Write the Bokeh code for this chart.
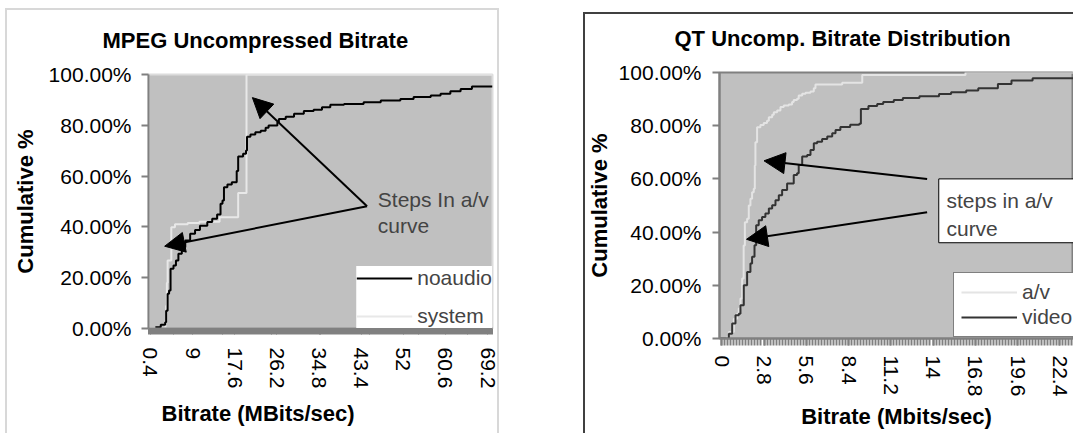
import math
from bokeh.plotting import figure
from bokeh.models import (Range1d, FixedTicker, NumeralTickFormatter, Legend, LegendItem,
                          Arrow, NormalHead, Label, BoxAnnotation, Title, Spacer)
from bokeh.layouts import row, column
from bokeh.embed import file_html
from bokeh.resources import INLINE

FONT = "Liberation Sans"

# ---------------- data: MPEG chart (MBits/sec, cumulative %) ----------------
noaudio_x = [1.4, 2.5, 3.4, 3.6, 3.9, 4.2, 4.5, 5.1, 5.6, 6.1, 6.8, 7.5, 8.5, 9.5, 10.5,
             12.0, 13.0, 14.0, 14.7, 15.1, 15.4, 16.1, 17.0, 18.0, 18.3, 19.3, 19.9, 20.1,
             20.8, 21.8, 22.9, 23.9, 24.5, 26.3, 26.6, 28.0, 29.7, 31.7, 33.7, 35.4, 37.1,
             39.9, 43.9, 47.4, 51.4, 54.1, 57.6, 59.6, 61.6, 63.7, 66.0, 70.2]
noaudio_y = [0.5, 1.5, 2.5, 7, 13.7, 15, 23.5, 24.8, 26.8, 29.4, 32, 34.6, 37.3, 38.8, 40.5,
             41.9, 43.2, 44.9, 49.1, 50.4, 55.6, 56.7, 57.6, 62, 67.7, 68.8, 70.1, 75.5,
             76.4, 77.3, 77.9, 79, 79.9, 81.2, 82.5, 83.4, 84.5, 85.6, 86.1, 87.1, 88.1,
             88.4, 89.1, 89.8, 90.4, 91.1, 91.7, 92.4, 93.4, 94.3, 95.3, 95.3]
system_x = [0.0, 3.45, 3.6, 3.75, 3.9, 4.65, 5.4, 8.0, 10.4, 14.5, 18.3, 20.0, 70.2]
system_y = [0, 3, 9, 18, 26.8, 39.9, 41.0, 41.5, 42.0, 43.8, 53.3, 100, 100]
mpeg_tick_labels = ["0.4", "9", "17.6", "26.2", "34.8", "43.4", "52", "60.6", "69.2"]

# ---------------- data: QT chart (Mbits/sec, cumulative %) ----------------
av_x = [-0.15, 0.3, 0.47, 0.8, 1.02, 1.13, 1.24, 1.35, 1.45, 1.53, 1.68, 1.79, 1.9, 2.01,
        2.12, 2.19, 2.23, 2.34, 2.56, 2.78, 3.0, 3.12, 3.34, 3.45, 3.67, 3.89, 4.11, 4.44,
        4.66, 4.77, 4.99, 5.1, 5.33, 5.55, 5.88, 6.1, 6.21, 7.98, 9.31, 16.15, 23.31]
av_y = [0, 0.3, 2.4, 7.4, 9.3, 11.3, 15, 22.6, 35, 43.7, 45, 50, 52.5, 55,
        56.3, 65, 73.8, 79.4, 80.3, 81, 81.9, 83.2, 84.1, 85.1, 85.7, 87, 87.6, 88,
        88.9, 89.7, 90.1, 91.4, 92, 92.4, 92.9, 94.1, 95.5, 96.1, 99.1, 100, 100]
video_x = [-0.15, 0.47, 0.69, 0.91, 1.13, 1.24, 1.46, 1.68, 1.9, 2.01, 2.17, 2.28, 2.45,
           2.67, 2.89, 3.12, 3.34, 3.56, 3.78, 4.0, 4.33, 4.77, 4.99, 5.1, 5.33, 5.66,
           5.88, 6.1, 6.32, 6.65, 6.99, 7.32, 7.54, 7.86, 8.51, 9.11, 9.22, 9.72, 10.3,
           10.7, 11.4, 12.0, 13.1, 14.4, 15.2, 16.2, 17.0, 18.3, 19.2, 20.6, 23.31]
video_y = [0, 1.8, 5.6, 8.7, 9.3, 12.5, 20, 25, 28.2, 30.7, 35.1, 42.6, 44.5,
           45.7, 47, 48.9, 50.1, 52, 53.9, 55.8, 58.3, 61.5, 62.1, 65.2, 68.4, 69,
           70.9, 73.4, 74, 75, 75.9, 77.2, 78.4, 79.5, 80.4, 80.7, 86.3, 87.4, 88.2,
           88.9, 89.7, 90.4, 91.1, 91.9, 92.6, 93.2, 94.1, 95.7, 97, 97.8, 97.8]
qt_tick_labels = ["0", "2.8", "5.6", "8.4", "11.2", "14", "16.8", "19.6", "22.4"]

y_ticks = [0.0, 0.2, 0.4, 0.6, 0.8, 1.0]

# annotation anchors (data coords)
mpeg_arrow_start = (44.6, 0.481)
mpeg_arrow_tips = [(21.2, 0.909), (3.3, 0.324)]
qt_arrow_starts = [(13.61, 0.600), (13.61, 0.475)]
qt_arrow_tips = [(2.80, 0.668), (1.64, 0.373)]


def pct(v):
    return [a / 100.0 for a in v]


def style_common(p, tick_w):
    p.background_fill_color = "#c0c0c0"
    p.border_fill_color = "white"
    p.border_fill_alpha = 0
    p.xgrid.visible = False
    p.ygrid.visible = False
    for ax in (p.xaxis[0], p.yaxis[0]):
        ax.axis_line_color = "#808080"
        ax.axis_line_width = 2
        ax.major_tick_line_color = "#808080"
        ax.major_label_text_font = FONT
        ax.major_label_text_font_size = "21px"
        ax.major_label_text_color = "black"
        ax.axis_label_text_font = FONT
        ax.axis_label_text_font_size = "22px"
        ax.axis_label_text_font_style = "bold"
        ax.axis_label_text_color = "black"
    ya = p.yaxis[0]
    ya.ticker = FixedTicker(ticks=y_ticks)
    ya.formatter = NumeralTickFormatter(format="0.00%")
    ya.minor_tick_line_color = None
    ya.major_tick_in = 0
    ya.major_tick_out = 7
    ya.major_tick_line_width = 2
    xa = p.xaxis[0]
    xa.major_tick_in = 0
    xa.minor_tick_in = 0
    xa.major_tick_out = 6
    xa.minor_tick_out = 6
    xa.major_tick_line_width = tick_w
    xa.minor_tick_line_width = tick_w
    xa.minor_tick_line_color = "#808080"
    xa.major_label_orientation = -math.pi / 2


def chart_title(p, text, offset, standoff):
    p.title.text = text
    p.title.align = "left"
    p.title.offset = offset
    p.title.text_font = FONT
    p.title.text_font_size = "22px"
    p.title.text_font_style = "bold"
    p.title.text_color = "black"
    p.title.standoff = standoff


def frame_box(color, top, right_px=None):
    # chart-area border (left, top[, right]) painted behind the transparent canvas
    grads = ["linear-gradient(%s,%s)" % (color, color)] * (3 if right_px else 2)
    sizes = ["2px 100%", ("%dpx 2px" % (right_px + 2)) if right_px else "100% 2px"]
    pos = ["0px %dpx" % top, "0px %dpx" % top]
    if right_px:
        sizes.append("2px 100%")
        pos.append("%dpx %dpx" % (right_px, top))
    return {"background-image": ", ".join(grads), "background-size": ", ".join(sizes),
            "background-position": ", ".join(pos), "background-repeat": "no-repeat"}


# ---------------- left figure ----------------
p1 = figure(width=498, height=433, output_backend="svg", toolbar_location=None,
            x_range=Range1d(0.0, 70.2), y_range=Range1d(0, 1),
            min_border_left=143, min_border_right=11, min_border_top=74, min_border_bottom=105)
p1.outline_line_color = "#dcdcdc"
p1.outline_line_width = 2
mt = [float(s) for s in mpeg_tick_labels]
style_common(p1, 1)
p1.xaxis[0].ticker = FixedTicker(ticks=mt, minor_ticks=[round(0.2 * i, 1) for i in range(352)])
p1.xaxis[0].major_label_overrides = {v: s for v, s in zip(mt, mpeg_tick_labels)}
p1.xaxis[0].major_label_standoff = 13
p1.yaxis[0].major_label_standoff = 10
p1.yaxis[0].axis_label = "Cumulative %"
p1.yaxis[0].axis_label_standoff = 8

r_sys = p1.step(system_x, pct(system_y), mode="after", line_color="#e8e8e8", line_width=2)
r_noa = p1.step(noaudio_x, pct(noaudio_y), mode="after", line_color="black", line_width=2)

chart_title(p1, "MPEG Uncompressed Bitrate", -46, 43)
p1.add_layout(Title(text="Bitrate (MBits/sec)", align="left", offset=13, text_font=FONT,
                    text_font_size="22px", text_font_style="bold", text_color="black",
                    standoff=14), "below")

leg1 = Legend(items=[LegendItem(label="noaudio", renderers=[r_noa]),
                     LegendItem(label="system", renderers=[r_sys])],
              location="bottom_right", margin=0, padding=6, spacing=14,
              glyph_width=56, glyph_height=20, label_height=20, label_standoff=5,
              label_text_font=FONT, label_text_font_size="21px",
              border_line_color=None, background_fill_color="white", background_fill_alpha=1)
p1.add_layout(leg1)

for tip in mpeg_arrow_tips:
    p1.add_layout(Arrow(end=NormalHead(size=20, fill_color="black", line_color="black"),
                        x_start=mpeg_arrow_start[0], y_start=mpeg_arrow_start[1],
                        x_end=tip[0], y_end=tip[1], line_color="black", line_width=2))
p1.add_layout(Label(x=46.8, y=0.507, text="Steps In a/v", text_font=FONT,
                    text_font_size="21px", text_baseline="alphabetic"))
p1.add_layout(Label(x=46.8, y=0.406, text="curve", text_font=FONT,
                    text_font_size="21px", text_baseline="alphabetic"))
p1.styles = frame_box("#d8d8d8", 8, right_px=492)

# ---------------- right figure ----------------
p2 = figure(width=490, height=433, output_backend="svg", toolbar_location=None,
            x_range=Range1d(-0.15, 23.31), y_range=Range1d(0, 1),
            min_border_left=136, min_border_right=0, min_border_top=72, min_border_bottom=95)
p2.outline_line_color = "#808080"
p2.outline_line_width = 2
qt = [float(s) for s in qt_tick_labels]
style_common(p2, 2)
p2.xaxis[0].ticker = FixedTicker(ticks=qt, minor_ticks=[round(0.2 * i, 1) for i in range(117)])
p2.xaxis[0].major_label_overrides = {v: s for v, s in zip(qt, qt_tick_labels)}
p2.xaxis[0].major_tick_out = 7
p2.xaxis[0].minor_tick_out = 7
p2.xaxis[0].major_label_standoff = 10
p2.xaxis[0].axis_label = "Bitrate (Mbits/sec)"
p2.xaxis[0].axis_label_standoff = 5
p2.yaxis[0].major_label_standoff = 11
p2.yaxis[0].axis_label = "Cumulative %"
p2.yaxis[0].axis_label_standoff = 4

r_av = p2.step(av_x, pct(av_y), mode="after", line_color="#e4e4e4", line_width=2)
r_vid = p2.step(video_x, pct(video_y), mode="after", line_color="#333333", line_width=2)

chart_title(p2, "QT Uncomp. Bitrate Distribution", -45, 43)

leg2 = Legend(items=[LegendItem(label="a/v", renderers=[r_av]),
                     LegendItem(label="video", renderers=[r_vid])],
              location=(234, 1), margin=0, padding=7, spacing=1,
              glyph_width=56, glyph_height=20, label_height=20, label_standoff=5,
              label_text_font=FONT, label_text_font_size="21px",
              border_line_color="black", border_line_width=1,
              background_fill_color="white", background_fill_alpha=1)
p2.add_layout(leg2)

p2.add_layout(BoxAnnotation(left=14.38, right=30, bottom=0.36, top=0.60, fill_color="white",
                            fill_alpha=1, line_color="black", line_width=1, line_alpha=1))
for st, tip in zip(qt_arrow_starts, qt_arrow_tips):
    p2.add_layout(Arrow(end=NormalHead(size=21, fill_color="black", line_color="black"),
                        x_start=st[0], y_start=st[1], x_end=tip[0], y_end=tip[1],
                        line_color="black", line_width=2))
p2.add_layout(Label(x=14.89, y=0.519, text="steps in a/v", text_font=FONT,
                    text_font_size="21px", text_baseline="alphabetic"))
p2.add_layout(Label(x=14.89, y=0.412, text="curve", text_font=FONT,
                    text_font_size="21px", text_baseline="alphabetic"))
p2.styles = frame_box("#404040", 12)

# p2 nested in its own column so that its plot area is not aligned with p1's
layout = row(Spacer(width=5), p1, Spacer(width=80), column(p2))

open("out.html", "w").write(file_html(layout, INLINE))
